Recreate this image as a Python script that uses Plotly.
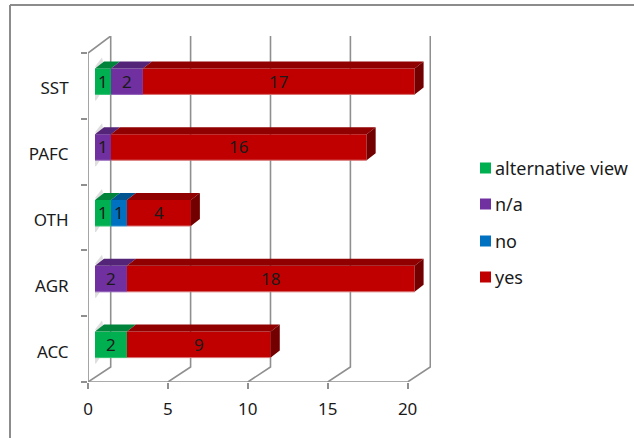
import plotly.graph_objects as go

categories = ["ACC", "AGR", "OTH", "PAFC", "SST"]
series_names = ["alternative view", "n/a", "no", "yes"]
alternative_view = [2, 0, 1, 0, 1]
not_applicable = [0, 2, 0, 1, 2]
no_answer = [0, 0, 1, 0, 0]
yes_answer = [9, 18, 4, 16, 17]
series_values = [alternative_view, not_applicable, no_answer, yes_answer]

front_colors = ["#00b050", "#7030a0", "#0070c0", "#c00000"]
top_colors = ["#00843c", "#542478", "#005490", "#900000"]
edge_colors = ["#30c070", "#9060b8", "#3090d0", "#d87070"]
side_color = "#730000"
grid_color = "#8f8f8f"
text_color = "#1a1a1a"
font_family = "Noto Sans"

W, H = 634, 438
L, R, T, B = 88, 431, 36, 382
PX_X = 15.98
PX_Y = 65.8

# Oblique projection offsets, expressed in axis units
BAR_START = 7 / PX_X
BAR_LIFT = 4.5 / PX_Y
BAR_WIDTH = 26 / PX_Y
BAR_DX = 9 / PX_X
BAR_DY = 7 / PX_Y
WALL_DX = 22.7 / PX_X
WALL_DY = 15 / PX_Y
LABEL_DROP = 2.5 / PX_Y
VALUE_DROP = 2 / PX_Y

x_range = [0, (R - L) / PX_X]
y_range = [-0.5, -0.5 + (B - T) / PX_Y]
x_ticks = [0, 5, 10, 15, 20]
y_top = len(categories) - 0.5

fig = go.Figure()

shapes = []
line = dict(color=grid_color, width=1.6)
# Back wall verticals and their floor diagonals
for t in x_ticks:
    path = (
        f"M {t} -0.5 L {t + WALL_DX} {-0.5 + WALL_DY} L {t + WALL_DX} {y_range[1]}"
    )
    shapes.append(dict(type="path", path=path, xref="x", yref="y", line=line, layer="below"))
# Front axis, floor edge and top-left wall edge
shapes.append(dict(type="line", xref="x", yref="y", x0=0, x1=20, y0=-0.5, y1=-0.5, line=line, layer="below"))
shapes.append(dict(type="path", xref="x", yref="y", line=line, layer="below",
                   path=f"M 0 -0.5 L 0 {y_top} L {WALL_DX} {y_range[1]}"))
# Outer chart frame (top and left only)
frame = dict(color="#8c8c8c", width=2)
shapes.append(dict(type="line", xref="paper", yref="paper", x0=(10 - L) / (R - L), x1=(W - L) / (R - L),
                   y0=(B - 5) / (B - T), y1=(B - 5) / (B - T), line=frame))
shapes.append(dict(type="line", xref="paper", yref="paper", x0=(10 - L) / (R - L), x1=(10 - L) / (R - L),
                   y0=(B - 5) / (B - T), y1=(B - H) / (B - T), line=frame))

# Faint shadows around the bar root where it meets the wall
shade_x, shade_y = [], []
for i in range(len(categories)):
    yc = i + BAR_LIFT
    yt, yb = yc + BAR_WIDTH / 2, yc - BAR_WIDTH / 2
    x0 = BAR_START
    shade_x += [x0, x0 + 7 / PX_X, x0 + 8 / PX_X, x0 + 3 / PX_X, x0, None]
    shade_y += [yt + 2 / PX_Y, yt + 11 / PX_Y, yt + 7 / PX_Y, yt, yt + 2 / PX_Y, None]
    shade_x += [x0, x0 + 5 / PX_X, x0 + 1 / PX_X, x0, x0, None]
    shade_y += [yb, yb, yb - 6 / PX_Y, yb - 6 / PX_Y, yb, None]
fig.add_trace(go.Scatter(
    x=shade_x, y=shade_y, mode="lines", fill="toself", fillcolor="#dedede", line=dict(width=0),
    hoverinfo="skip", showlegend=False,
))

# Front faces, top faces and value labels of the stacked bars
running = [BAR_START] * len(categories)
label_x, label_y, label_text = [], [], []
for name, values, front, top, edge in zip(series_names, series_values, front_colors, top_colors, edge_colors):
    ys, xs, bases = [], [], []
    top_x, top_y, edge_x, edge_y = [], [], [], []
    for i, v in enumerate(values):
        if v == 0:
            continue
        x0 = running[i]
        x1 = x0 + v
        yc = i + BAR_LIFT
        ys.append(yc)
        xs.append(v)
        bases.append(x0)
        label_x.append(x0 + v / 2)
        label_y.append(yc - VALUE_DROP)
        label_text.append(str(v))
        yt = yc + BAR_WIDTH / 2
        yb = yc - BAR_WIDTH / 2
        top_x += [x0, x1, x1 + BAR_DX, x0 + BAR_DX, x0, None]
        top_y += [yt, yt, yt + BAR_DY, yt + BAR_DY, yt, None]
        edge_x += [x0, x1, None]
        edge_y += [yb, yb, None]
        running[i] = x1
    fig.add_trace(go.Bar(
        orientation="h", y=ys, x=xs, base=bases, width=BAR_WIDTH, name=name,
        marker=dict(color=front, line=dict(width=0)),
        cliponaxis=False, showlegend=False,
    ))
    fig.add_trace(go.Scatter(
        x=top_x, y=top_y, mode="lines", fill="toself", fillcolor=top, line=dict(width=0),
        hoverinfo="skip", showlegend=False,
    ))
    fig.add_trace(go.Scatter(
        x=edge_x, y=edge_y, mode="lines", line=dict(color=edge, width=1),
        hoverinfo="skip", showlegend=False,
    ))

# End caps on the right of each full bar
cap_x, cap_y = [], []
for i, end in enumerate(running):
    yc = i + BAR_LIFT
    yt, yb = yc + BAR_WIDTH / 2, yc - BAR_WIDTH / 2
    cap_x += [end, end + BAR_DX, end + BAR_DX, end, end, None]
    cap_y += [yt, yt + BAR_DY, yb + BAR_DY, yb, yt, None]
fig.add_trace(go.Scatter(
    x=cap_x, y=cap_y, mode="lines", fill="toself", fillcolor=side_color, line=dict(width=0),
    hoverinfo="skip", showlegend=False,
))

fig.add_trace(go.Scatter(
    x=label_x, y=label_y, text=label_text, mode="text", textposition="middle center",
    textfont=dict(family=font_family, size=17, color=text_color),
    hoverinfo="skip", showlegend=False, cliponaxis=False,
))

# Legend keys and labels, laid out in pixel terms on the paper
annotations = []
legend_rows = [168, 204, 241, 277]
for name, color, row in zip(series_names, front_colors, legend_rows):
    shapes.append(dict(type="rect", xref="paper", yref="paper", line=dict(width=0), fillcolor=color,
                       x0=(480 - L) / (R - L), x1=(491 - L) / (R - L),
                       y0=(B - row - 5.5) / (B - T), y1=(B - row + 5.5) / (B - T)))
    annotations.append(dict(xref="paper", yref="paper", x=(494 - L) / (R - L), y=(B - row) / (B - T),
                            text=name, showarrow=False, xanchor="left", yanchor="middle",
                            borderpad=0, font=dict(family=font_family, size=18, color=text_color)))

fig.update_layout(
    width=W, height=H, autosize=False, barmode="overlay",
    paper_bgcolor="white", plot_bgcolor="rgba(0,0,0,0)",
    margin=dict(l=L, r=W - R, t=T, b=H - B, pad=0),
    shapes=shapes, annotations=annotations, showlegend=False,
    font=dict(family=font_family, size=17, color=text_color),
    xaxis=dict(range=x_range, tickvals=x_ticks, showgrid=False, zeroline=False, showline=False,
               ticks="outside", ticklen=6, tickwidth=1.6, tickcolor=grid_color,
               ticklabelstandoff=6, fixedrange=True),
    yaxis=dict(range=y_range, tickvals=[i - LABEL_DROP for i in range(len(categories))], ticktext=categories,
               showgrid=False, zeroline=False, showline=False, ticks="outside", ticklen=0,
               ticklabelstandoff=15, fixedrange=True,
               minor=dict(tickvals=[i - 0.5 for i in range(len(categories) + 1)],
                          ticks="outside", ticklen=6, tickwidth=1.6, tickcolor=grid_color, showgrid=False)),
)

fig.write_html("out.html", config=dict(displayModeBar=False))
